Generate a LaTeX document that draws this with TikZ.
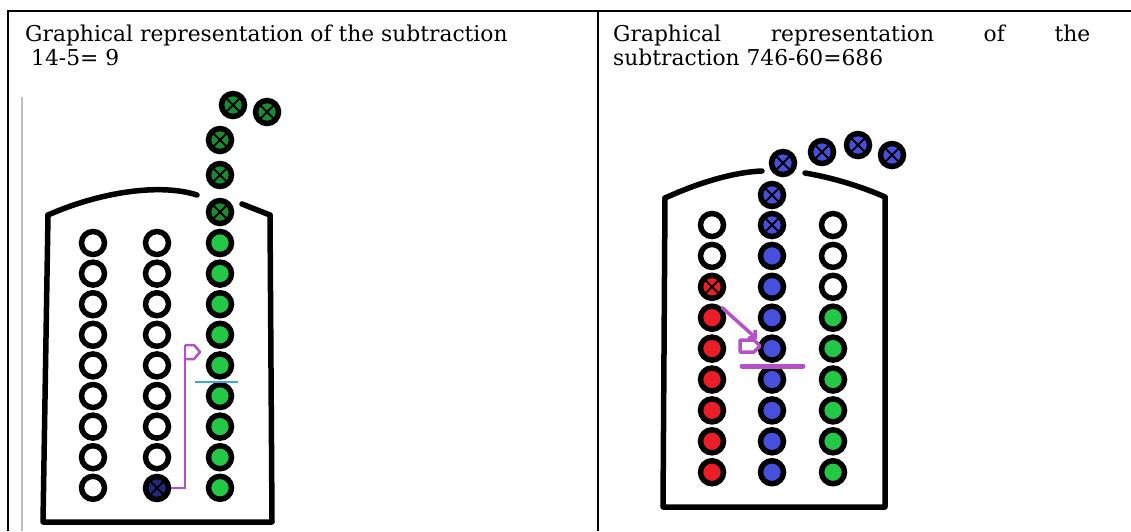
\documentclass[tikz,border=0pt]{standalone}
\usepackage{fontspec}
\setmainfont{DejaVu Serif}
\usetikzlibrary{arrows.meta}

\definecolor{beadgreen}{HTML}{22C846}
\definecolor{beadblue}{HTML}{4650DC}
\definecolor{beadred}{HTML}{EB1E28}
\definecolor{beadnavy}{HTML}{23287A}
\definecolor{penpurple}{HTML}{B450C8}
\definecolor{markcyan}{HTML}{3FA9D5}

\begin{document}
\begin{tikzpicture}[x=1pt,y=-1pt,
  bead/.style={circle,draw=black,line width=5.5pt,minimum size=23pt,inner sep=0pt},
  crossed/.style={bead,path picture={\draw[black,line width=2pt] (path picture bounding box.north west) -- (path picture bounding box.south east) (path picture bounding box.north east) -- (path picture bounding box.south west);}},
  wall/.style={line width=5.5pt,line cap=round,line join=round},
  title/.style={anchor=base west,inner sep=0pt,align=left,font=\fontsize{21.8}{24}\selectfont}]
\useasboundingbox (0,0) rectangle (1131,531);
\draw[line width=2pt] (8,531) -- (8,11) -- (1131,11);
\draw[line width=2pt] (598,11) -- (598,531);
\draw[gray!50,line width=1.5pt] (22,97) -- (22,531);

\node[title] (tleft) at (25,65) {Graphical representation of the subtraction\\\hspace*{6pt}14-5= 9};
\node[title] (tright) at (613,65) {\hbox to 477pt{Graphical\hfill representation\hfill of\hfill the}\\subtraction 746-60=686};

\draw[wall] (48,215) .. controls (100,192) and (160,183) .. (197,195);
\draw[wall] (242,204) -- (270,215);
\draw[wall] (48,215) -- (43,522) -- (272,522) -- (270,215);
\foreach \r in {1,...,9} {
  \node[bead,fill=white] (L1-\r) at (93,{243+(\r-1)*30.6}) {};
  \node[bead,fill=beadgreen] (L3-\r) at (220,{243+(\r-1)*30.6}) {};
}
\foreach \r in {1,...,8} {
  \node[bead,fill=white] (L2-\r) at (157,{243+(\r-1)*30.6}) {};
}
\node[crossed,fill=beadnavy] (L2-9) at (157,488) {};
\node[crossed,fill=beadgreen!70!black] (Lx1) at (220,212) {};
\node[crossed,fill=beadgreen!70!black] (Lx2) at (220,175) {};
\node[crossed,fill=beadgreen!70!black] (Lx3) at (220,140) {};
\node[crossed,fill=beadgreen!70!black] (Lx4) at (233,105) {};
\node[crossed,fill=beadgreen!70!black] (Lx5) at (267,112) {};
\coordinate (Ltop) at (185,345);
\draw[penpurple,line width=2.5pt] (L2-9.east) -| (Ltop);
\draw[penpurple,line width=2.5pt,line join=round] (Ltop) -- (194,345) -- (200,352) -- (194,359) -- (185,359);
\draw[markcyan,line width=2pt] (195,382) -- (238,382);

\draw[wall] (665,198) .. controls (700,182) and (735,172) .. (762,171);
\draw[wall] (805,173) .. controls (835,178) and (865,188) .. (885,197);
\draw[wall] (665,198) -- (663,507) -- (885,507) -- (885,197);
\foreach \r in {1,2} {
  \node[bead,fill=white] (R1-\r) at (712,{225+(\r-1)*30.9}) {};
}
\node[crossed,fill=beadred] (R1-3) at (712,{225+2*30.9}) {};
\foreach \r in {4,...,9} {
  \node[bead,fill=beadred] (R1-\r) at (712,{225+(\r-1)*30.9}) {};
  \node[bead,fill=beadgreen] (R3-\r) at (833,{225+(\r-1)*30.9}) {};
}
\node[crossed,fill=beadblue] (R2-1) at (772,225) {};
\foreach \r in {2,...,9} {
  \node[bead,fill=beadblue] (R2-\r) at (772,{225+(\r-1)*30.9}) {};
}
\foreach \r in {1,2,3} {
  \node[bead,fill=white] (R3-\r) at (833,{225+(\r-1)*30.9}) {};
}
\node[crossed,fill=beadblue] (Rx1) at (772,195) {};
\node[crossed,fill=beadblue] (Rx2) at (783,163) {};
\node[crossed,fill=beadblue] (Rx3) at (822,152) {};
\node[crossed,fill=beadblue] (Rx4) at (858,145) {};
\node[crossed,fill=beadblue] (Rx5) at (892,155) {};
\coordinate (Rtip) at (757,339);
\draw[penpurple,line width=3.5pt,line cap=round,-{Straight Barb[length=5pt,width=11pt]}] (R1-4.north east) -- (Rtip);
\draw[penpurple,line width=3.5pt,line join=round] (740,340) -- (754,340) -- (760,346) -- (754,352) -- (740,352) -- cycle;
\draw[penpurple,line width=5pt,line cap=round] (742,366) -- (803,366);
\end{tikzpicture}
\end{document}
